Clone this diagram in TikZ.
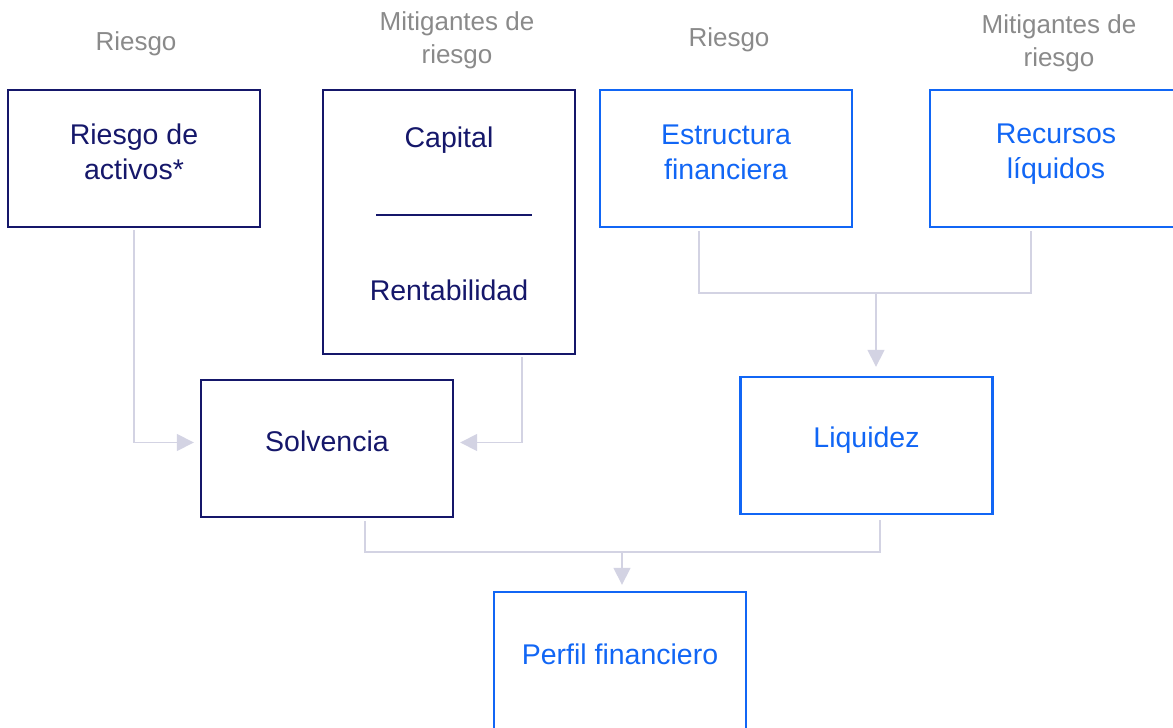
\documentclass[tikz,border=0pt]{standalone}
\usepackage{fontspec}
\setmainfont{Liberation Sans}
\usetikzlibrary{arrows.meta,calc}
\definecolor{navy}{HTML}{15176A}
\definecolor{blu}{HTML}{1166F5}
\definecolor{hdr}{HTML}{8A8A8A}
\definecolor{conn}{HTML}{D3D3E3}
\tikzset{
  box/.style={draw, line width=2.4pt, minimum width=252pt, minimum height=137pt,
    inner sep=0pt},
  navybox/.style={box, draw=navy},
  bluebox/.style={box, draw=blu},
  boxtext/.style={align=center, inner sep=0pt, font=\fontsize{28.5}{35}\selectfont},
  navytext/.style={boxtext, text=navy},
  bluetext/.style={boxtext, text=blu},
  hdrtext/.style={text=hdr, align=center, font=\fontsize{26}{33}\selectfont},
  conline/.style={draw=conn, line width=1.6pt},
  conarrow/.style={conline, -{Triangle[length=17pt,width=17pt]}}
}
\begin{document}
\begin{tikzpicture}[x=1pt,y=-1pt]
\useasboundingbox (0,0) rectangle (1173,728);
\clip (0,0) rectangle (1173,728);
% headers
\node[hdrtext] (h1) at (136,44) {Riesgo};
\node[hdrtext] (h2) at (457,40) {Mitigantes de\\riesgo};
\node[hdrtext] (h3) at (729,40) {Riesgo};
\node[hdrtext] (h4) at (1059,43) {Mitigantes de\\riesgo};
% boxes
\node[navybox] (A) at (134,158.5) {};
\node[navytext] (At) at ([yshift=7pt]A.center) {Riesgo de\\activos*};
\node[navybox, minimum height=264pt] (B) at (449,222) {};
\node[navytext] (Bcap) at (449,140) {Capital};
\node[navytext] (Bren) at (449,290) {Rentabilidad};
\coordinate (Bl1) at (376,215);
\coordinate (Bl2) at (532,215);
\draw[navy, line width=2.4pt] (Bl1) -- (Bl2);
\node[bluebox] (C) at (726,158.5) {};
\node[bluetext] (Ct) at ([yshift=6pt]C.center) {Estructura\\financiera};
\node[bluebox] (D) at (1056,158.5) {};
\node[bluetext] (Dt) at ([yshift=4pt]D.center) {Recursos\\líquidos};
\node[navybox] (E) at (327,448.5) {};
\node[navytext] (Et) at ([yshift=7pt]E.center) {Solvencia};
\node[bluebox] (F) at (866.5,445.5) {};
\node[bluetext] (Ft) at ([yshift=5pt]F.center) {Liquidez};
\node[bluebox] (G) at (620,660.5) {};
\node[bluetext] (Gt) at ([yshift=6pt]G.center) {Perfil financiero};
% connectors
\coordinate (aE) at ($(E.west)+(-6,-6)$);
\draw[conarrow] ([yshift=-2pt]A.south) |- (aE);
\coordinate (bsrc) at ($(B.south east)+(-54,2)$);
\coordinate (aE2) at ($(E.east)+(6,-6)$);
\draw[conarrow] (bsrc) |- (aE2);
\coordinate (csrc) at ($(C.south)+(-27,3)$);
\coordinate (dsrc) at ($(D.south)+(-25,3)$);
\coordinate (cdj) at (876,293);
\draw[conline] (csrc) |- (cdj) -| (dsrc);
\draw[conarrow] (cdj) -- ([yshift=9pt]F.north -| cdj);
\coordinate (esrc) at ($(E.south)+(38,3)$);
\coordinate (fsrc) at ($(F.south)+(13.5,5)$);
\coordinate (efj) at (622,552);
\draw[conline] (esrc) |- (efj) -| (fsrc);
\draw[conarrow] (efj) -- ([yshift=6pt]G.north -| efj);
\end{tikzpicture}
\end{document}
